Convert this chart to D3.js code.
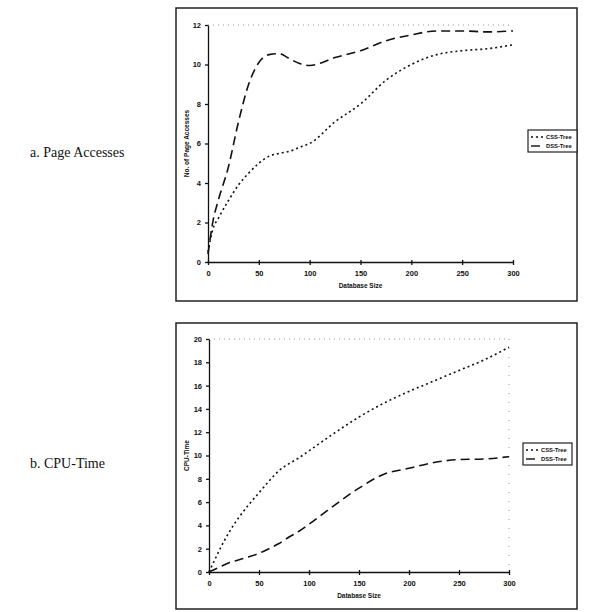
<!DOCTYPE html>
<meta charset="utf-8">
<style>
body { margin: 0; background: #fff; }
.line { fill: none; stroke: #111; stroke-width: 1.6px; }
.axis text { font-family: Arial, "Liberation Sans", sans-serif; font-size: 7.5px; font-weight: bold; fill: #111; }
.axis path, .axis line { stroke: #111; stroke-width: 1.3px; }
.title { font-family: Arial, "Liberation Sans", sans-serif; font-size: 6.5px; font-weight: bold; fill: #111; }
.legtext { font-family: Arial, "Liberation Sans", sans-serif; font-size: 5.8px; font-weight: bold; fill: #111; }
.side { font-family: "Liberation Serif", "DejaVu Serif", serif; font-size: 14px; fill: #111; }
</style>
<body>
<script src="https://d3js.org/d3.v7.min.js"></script>
<script>

// x positions (database size)
var sizes = [0, 5, 10, 20, 30, 40, 50, 60, 70, 80, 90, 100, 125, 150, 175, 200, 225, 250, 275, 300];

// a. page accesses
var pageCSS = [0.5, 1.7, 2.2, 3.1, 3.9, 4.5, 5.0, 5.35, 5.5, 5.6, 5.8, 6.0, 7.1, 8.0, 9.2, 10.0, 10.5, 10.7, 10.8, 11.0];
var pageDSS = [0.4, 2.1, 3.1, 4.8, 7.1, 9.0, 10.1, 10.5, 10.55, 10.3, 10.05, 9.95, 10.35, 10.7, 11.2, 11.5, 11.7, 11.7, 11.65, 11.7];

// b. cpu time
var cpuCSS = [0, 0.9, 1.8, 3.4, 4.7, 5.8, 6.8, 7.8, 8.7, 9.3, 9.8, 10.4, 11.9, 13.3, 14.5, 15.5, 16.4, 17.3, 18.2, 19.3];
var cpuDSS = [0, 0.2, 0.4, 0.8, 1.05, 1.3, 1.6, 2.0, 2.45, 3.0, 3.5, 4.1, 5.7, 7.2, 8.4, 8.9, 9.4, 9.65, 9.7, 9.9];

var xTicks = [0, 50, 100, 150, 200, 250, 300];
var legendNames = ["CSS-Tree", "DSS-Tree"];

var svg = d3.select("body").append("svg")
    .attr("width", 602)
    .attr("height", 612);

function drawChart(opt) {
  // outer frame
  svg.append("rect")
      .attr("x", opt.frame[0]).attr("y", opt.frame[1])
      .attr("width", opt.frame[2]).attr("height", opt.frame[3])
      .attr("fill", "none").attr("stroke", "#222").attr("stroke-width", 1.5);

  svg.append("text")
      .attr("class", "side")
      .attr("x", 30).attr("y", opt.sideY)
      .text(opt.side);

  var x = d3.scaleLinear().domain([0, 300]).range([opt.left, opt.right]);
  var y = d3.scaleLinear().domain([0, opt.ymax]).range([opt.bottom, opt.top]);

  // faint plot border (top, and right)
  svg.append("line")
      .attr("x1", x(0)).attr("x2", x(300))
      .attr("y1", y(opt.ymax)).attr("y2", y(opt.ymax))
      .attr("stroke", "#999").attr("stroke-width", 1).attr("stroke-dasharray", "1,4");
  if (opt.rightBorder) {
    svg.append("line")
        .attr("x1", x(300)).attr("x2", x(300))
        .attr("y1", y(opt.ymax)).attr("y2", y(0))
        .attr("stroke", "#999").attr("stroke-width", 1).attr("stroke-dasharray", "1,8");
  }

  var g1 = svg.append("g")
      .attr("class", "axis")
      .attr("transform", "translate(0," + opt.bottom + ")")
      .call(d3.axisBottom(x).tickValues(xTicks).tickSize(3).tickSizeOuter(0).tickPadding(6));
  g1.selectAll(".tick line").attr("y1", -2);

  svg.append("g")
      .attr("class", "axis")
      .attr("transform", "translate(" + opt.left + ",0)")
      .call(d3.axisLeft(y).ticks(opt.ymax / 2).tickSize(3).tickSizeOuter(0).tickPadding(4));

  svg.append("text")
      .attr("class", "title")
      .attr("x", (opt.left + opt.right) / 2).attr("y", opt.bottom + 26)
      .attr("text-anchor", "middle")
      .text("Database Size");

  svg.append("text")
      .attr("class", "title")
      .attr("transform", "translate(189," + (opt.top + opt.bottom) / 2 + ") rotate(-90)")
      .attr("text-anchor", "middle")
      .text(opt.ytitle);

  var line = d3.line()
      .x(function(d) { return x(d[0]); })
      .y(function(d) { return y(d[1]); })
      .curve(d3.curveMonotoneX);

  var series = [opt.css, opt.dss];
  var dashes = ["2,3", "9,5"];
  series.forEach(function(s, i) {
    svg.append("path")
        .datum(sizes.map(function(v, j) { return [v, s[j]]; }))
        .attr("class", "line")
        .style("stroke-dasharray", dashes[i])
        .attr("d", line);
  });

  // legend
  var lg = svg.append("g").attr("transform", "translate(" + opt.legend[0] + "," + opt.legend[1] + ")");
  lg.append("rect")
      .attr("width", 49).attr("height", 22)
      .attr("fill", "#fff").attr("stroke", "#222").attr("stroke-width", 1.2);
  legendNames.forEach(function(n, i) {
    lg.append("line")
        .attr("x1", 3).attr("x2", 16)
        .attr("y1", 7 + i * 9).attr("y2", 7 + i * 9)
        .attr("stroke", "#111").attr("stroke-width", 1.4)
        .attr("stroke-dasharray", dashes[i]);
    lg.append("text")
        .attr("class", "legtext")
        .attr("x", 18).attr("y", 9.2 + i * 9)
        .text(n);
  });
}

drawChart({
  frame: [176, 8, 401, 293],
  side: "a. Page Accesses", sideY: 157,
  left: 208, right: 513, top: 25, bottom: 262,
  ymax: 12, ytitle: "No. of Page Accesses",
  css: pageCSS, dss: pageDSS,
  legend: [528, 130], rightBorder: false
});

drawChart({
  frame: [176, 323, 401, 286],
  side: "b. CPU-Time", sideY: 468,
  left: 209, right: 509, top: 339, bottom: 572,
  ymax: 20, ytitle: "CPU-Time",
  css: cpuCSS, dss: cpuDSS,
  legend: [523, 443], rightBorder: true
});

</script>
</body>
